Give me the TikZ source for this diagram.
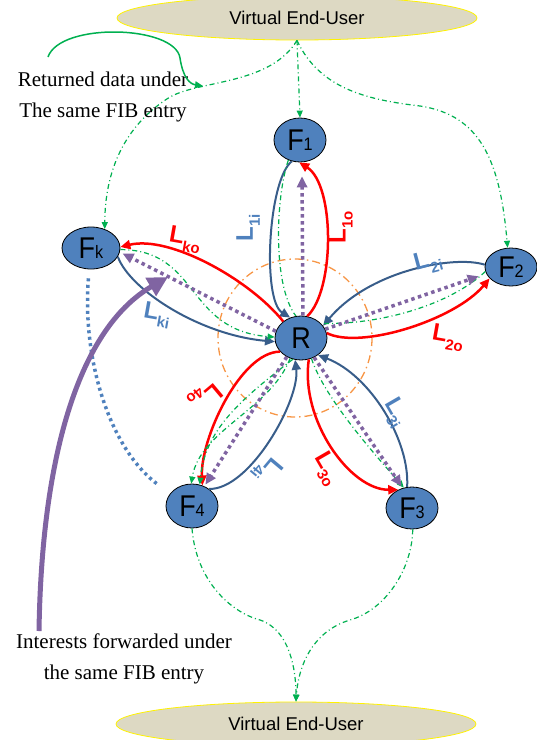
\documentclass[tikz,border=0pt]{standalone}
\usepackage{fontspec}
\setmainfont{Liberation Serif}
\setsansfont{Liberation Sans}
\usepackage{graphicx}
\usetikzlibrary{shapes.geometric,arrows.meta}
\definecolor{nodeblue}{HTML}{4F81BD}
\definecolor{loopblue}{HTML}{385D8A}
\definecolor{lblblue}{HTML}{4F81BD}
\definecolor{ddgreen}{HTML}{00B050}
\definecolor{purp}{HTML}{8064A2}
\definecolor{orng}{HTML}{F79646}
\definecolor{tanfill}{HTML}{DDD9C3}
\newcommand{\Fl}[2]{\scalebox{0.9}[1]{\fontsize{30}{30}\selectfont #1\fontsize{18}{18}\selectfont #2}}
\newcommand{\Ll}[2]{\fontsize{24}{24}\selectfont\bfseries #1\raisebox{-7pt}{\fontsize{15}{15}\selectfont #2}}
\tikzset{
  fnode/.style={ellipse, draw=black, line width=0.8pt, fill=nodeblue, minimum width=52pt, minimum height=44pt, inner sep=0pt, font=\sffamily},
  user/.style={ellipse, draw=yellow, line width=0.8pt, fill=tanfill, minimum width=360pt, minimum height=44pt, inner sep=0pt, font=\sffamily\fontsize{18.5}{20}\selectfont},
  bl/.style={draw=loopblue, line width=2pt, -{Triangle[length=10pt,width=9pt]}},
  rd/.style={draw=red, line width=2.5pt, -{Triangle[length=10pt,width=9pt]}},
  pd/.style={draw=purp, line width=3.5pt, dash pattern=on 3.5pt off 3.5pt, -{Triangle[length=11pt,width=10pt]}},
  gd/.style={draw=ddgreen, line width=1.2pt, dash pattern=on 5pt off 3pt on 1pt off 3pt},
  gda/.style={gd, -{Triangle[length=7pt,width=6pt]}},
  bdot/.style={draw=nodeblue, line width=3.5pt, dash pattern=on 3pt off 3.5pt},
  ring/.style={draw=orng, line width=1.3pt, dash pattern=on 8pt off 4pt on 1.5pt off 4pt},
  lblred/.style={text=red, font=\sffamily, inner sep=0pt},
  lblbl/.style={text=lblblue, font=\sffamily, inner sep=0pt},
  annot/.style={align=center, font=\fontsize{21}{31}\selectfont, inner sep=0pt}
}
\begin{document}
\begin{tikzpicture}[x=1pt,y=-1pt]
\useasboundingbox (0,0) rectangle (537,740);

% orange ring
\coordinate (ringc) at (295,338);
\draw[ring] (ringc) ellipse (77 and 79);

% nodes
\node[user] (top) at (297,18) {Virtual End-User};
\node[user] (bot) at (296,724) {Virtual End-User};
\node[fnode] (R)  at (301,338) {\Fl{R}{}};
\node[fnode] (F1) at (300,140) {\Fl{F}{1}};
\node[fnode, minimum height=38pt] (F2) at (511,267) {\Fl{F}{2}};
\node[fnode, minimum height=42pt] (F3) at (412,508) {\Fl{F}{3}};
\node[fnode] (F4) at (192,506) {\Fl{F}{4}};
\node[fnode, minimum width=58pt, minimum height=42pt] (Fk) at (91,248) {\Fl{F}{k}};

% F1 petal
\draw[bl] (F1.249) .. controls (268,180) and (262,300) .. (R.118);
\draw[rd] (R.74) .. controls (335,290) and (335,185) .. (F1.268);
\draw[gd] (F1.240) .. controls (276,195) and (272,285) .. (R.103);
\draw[pd, shorten >=14pt] (R.85) -- (F1.275);

% F2 petal
\draw[bl] (F2.175) .. controls (455,255) and (370,270) .. (R.29);
\draw[rd] (R.11) .. controls (360,350) and (455,320) .. (F2.208);
\draw[gd] (F2.190) .. controls (450,305) and (380,325) .. (R.36);
\draw[pd, shorten >=8pt] (R.20) -- (F2.195);

% F3 petal
\draw[bl] (F3.103) .. controls (410,440) and (370,375) .. (R.-45);
\draw[rd] (R.-70) .. controls (300,420) and (350,490) .. (F3.127);
\draw[gda] (R.-63) .. controls (325,400) and (380,460) .. (F3.112);
\draw[pd, shorten >=2pt] (R.-56) -- (F3.115);

% F4 petal
\draw[rd] (R.213) .. controls (240,352) and (200,440) .. (F4.63);
\draw[bl] (F4.45) .. controls (250,490) and (300,400) .. (R.255);
\draw[gda] (R.242) .. controls (270,410) and (200,430) .. (F4.92);
\draw[gda] (R.249) .. controls (240,400) and (205,430) .. (F4.70);
\draw[pd, shorten >=2pt] (R.233) -- (F4.58);

% Fk petal
\draw[rd] (R.137) .. controls (250,280) and (170,235) .. (Fk.2);
\draw[bl] (Fk.342) .. controls (130,290) and (200,335) .. (R.188);
\draw[gda] (Fk.357) .. controls (200,250) and (185,330) .. (R.178);
\draw[pd, shorten >=3pt] (R.165) -- (Fk.352);

% top user to F nodes
\draw[gda] (top.south) -- (F1.north);
\draw[gda] (top.south) .. controls (270,85) and (200,80) .. (170,97) .. controls (125,125) and (105,170) .. (Fk.54);
\draw[gda] (top.south) .. controls (320,90) and (370,100) .. (420,106) .. controls (480,115) and (500,160) .. (F2.100);

% F3, F4 to bottom user
\draw[gda] (F4.270) .. controls (196,580) and (230,612) .. (260,620) .. controls (290,630) and (296,670) .. (bot.north);
\draw[gda] (F3.272) .. controls (412,570) and (385,610) .. (350,620) .. controls (310,632) and (298,670) .. (bot.north);

% blue dotted Fk -> F4
\draw[bdot, shorten <=9pt, shorten >=14pt] (Fk.265) .. controls (82,360) and (110,450) .. (F4.150);

% labels
\node[lblbl, rotate=90] (l1i) at (248,228) {\Ll{L}{1i}};
\node[lblred, rotate=90] (l1o) at (341,227) {\Ll{L}{1o}};
\node[lblred, rotate=-10] (lko) at (185,240) {\Ll{L}{ko}};
\node[lblbl, rotate=-10] (lki) at (157,315) {\Ll{L}{ki}};
\node[lblbl, rotate=15] (l2i) at (428,262) {\Ll{L}{2i}};
\node[lblred, rotate=-10] (l2o) at (448,338) {\Ll{L}{2o}};
\node[lblbl, rotate=-60] (l3i) at (395,413) {\Ll{L}{3i}};
\node[lblred, rotate=-60] (l3o) at (327,469) {\Ll{L}{3o}};
\node[lblred, rotate=220] (l4o) at (205,396) {\Ll{L}{4o}};
\node[lblbl, rotate=230] (l4i) at (267,470) {\Ll{L}{4i}};

% annotations
\node[annot] (ret) at (103,97) {Returned data under\\The same FIB entry};
\node[annot] (int) at (124,659) {Interests forwarded under\\the same FIB entry};
\coordinate (retS) at (48,57);
\coordinate (retE) at (203,86);
\draw[ddgreen, line width=1.5pt, -{Triangle[length=8pt,width=7pt]}] (retS) .. controls (60,22) and (175,25) .. (180,58) .. controls (183,78) and (190,84) .. (retE);
\coordinate (intS) at (39,631);
\coordinate (intE) at (168,277);
\draw[purp, line width=5pt, -{Triangle[length=20pt,width=20pt]}] (intS) .. controls (42,440) and (85,325) .. (intE);
\end{tikzpicture}
\end{document}
